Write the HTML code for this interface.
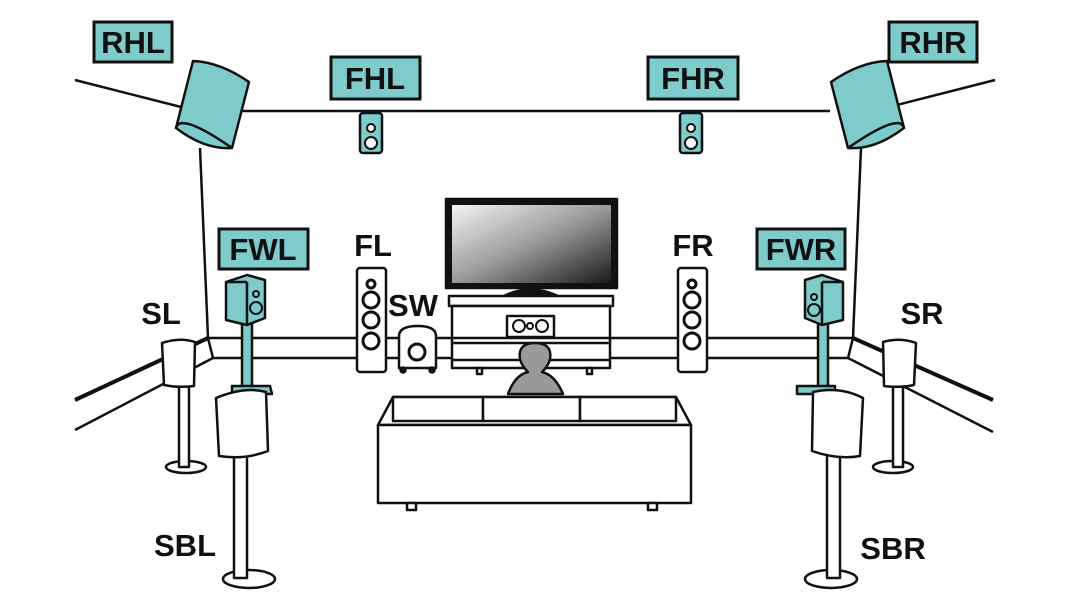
<!DOCTYPE html>
<html><head><meta charset="utf-8"><style>
html,body{margin:0;padding:0;background:#fff}
svg{display:block}
text{font-family:"Liberation Sans",sans-serif;font-weight:bold;font-size:31px;fill:#111}
</style></head><body>
<svg width="1080" height="612" viewBox="0 0 1080 612" xmlns="http://www.w3.org/2000/svg">
<defs>
<linearGradient id="scr" x1="0" y1="0" x2="1" y2="1">
<stop offset="0" stop-color="#f4f4f4"/><stop offset="0.5" stop-color="#9a9a9a"/><stop offset="1" stop-color="#1a1a1a"/>
</linearGradient>
</defs>
<g stroke="#111" stroke-width="2.5" fill="none" stroke-linejoin="round">
<!-- walls -->
<line x1="75" y1="80" x2="185" y2="108"/>
<line x1="995" y1="80" x2="885" y2="108"/>
<line x1="240" y1="111" x2="830" y2="111"/>
<line x1="200" y1="148" x2="208" y2="338"/>
<line x1="861" y1="148" x2="853" y2="338"/>
<!-- baseboard -->
<line x1="208" y1="338" x2="853" y2="338"/>
<line x1="213" y1="358" x2="848" y2="358"/>
<line x1="208" y1="338" x2="213" y2="358"/>
<line x1="853" y1="338" x2="848" y2="358"/>
<line x1="208" y1="338" x2="75" y2="400" stroke-width="4"/>
<line x1="213" y1="358" x2="75" y2="430"/>
<line x1="853" y1="338" x2="993" y2="400" stroke-width="4"/>
<line x1="848" y1="358" x2="993" y2="432"/>
</g>
<!-- labels -->
<g stroke="#111" stroke-width="3" fill="#7ecbcb">
<rect x="94" y="22" width="78" height="40"/>
<rect x="331" y="57" width="89" height="42"/>
<rect x="648" y="57" width="90" height="42"/>
<rect x="889" y="22" width="88" height="40"/>
<rect x="219" y="229" width="89" height="40"/>
<rect x="757" y="229" width="88" height="40"/>
</g>
<text x="133" y="53" text-anchor="middle">RHL</text>
<text x="375" y="89" text-anchor="middle">FHL</text>
<text x="693" y="89" text-anchor="middle">FHR</text>
<text x="933" y="53" text-anchor="middle">RHR</text>
<text x="263" y="260" text-anchor="middle">FWL</text>
<text x="801" y="260" text-anchor="middle">FWR</text>
<text x="373" y="256" text-anchor="middle">FL</text>
<text x="693" y="256" text-anchor="middle">FR</text>
<text x="413" y="316" text-anchor="middle">SW</text>
<text x="580" y="330" text-anchor="middle">C</text>
<text x="161" y="324" text-anchor="middle">SL</text>
<text x="922" y="324" text-anchor="middle">SR</text>
<text x="185" y="556" text-anchor="middle">SBL</text>
<text x="893" y="559" text-anchor="middle">SBR</text>
<g stroke="#111" stroke-width="2.5" stroke-linejoin="round">
<!-- RH speakers -->
<path d="M193,61 Q220,62 249,82 L232,148 Q205,150 176,128 Z" fill="#7ecbcb"/>
<path d="M176,128 Q180,112 232,148" fill="none"/>
<path d="M887,61 Q860,62 831,82 L848,148 Q875,150 904,128 Z" fill="#7ecbcb"/>
<path d="M904,128 Q900,112 848,148" fill="none"/>
<!-- FH speakers -->
<g fill="#7ecbcb"><rect x="360" y="113" width="22" height="40" rx="3"/><rect x="680" y="113" width="22" height="40" rx="3"/></g>
<g fill="#fff" stroke-width="2"><circle cx="371" cy="128" r="4"/><circle cx="371" cy="143" r="6"/><circle cx="691" cy="128" r="4"/><circle cx="691" cy="143" r="6"/></g>
<!-- TV -->
<rect x="446" y="199" width="171" height="89" fill="#111"/>
<rect x="452" y="205" width="159" height="78" fill="url(#scr)" stroke="none"/>
<path d="M502,297 Q530,282 560,297 Z" fill="#111"/>
<!-- stand -->
<rect x="449" y="296" width="164" height="10" fill="#fff"/>
<rect x="452" y="306" width="158" height="62" fill="#fff"/>
<line x1="452" y1="338" x2="610" y2="338"/><line x1="452" y1="343" x2="610" y2="343"/>
<line x1="452" y1="360" x2="610" y2="360"/>
<rect x="477" y="368" width="5" height="6" fill="#fff"/><rect x="587" y="368" width="5" height="6" fill="#fff"/>
<rect x="507" y="316" width="47" height="21" fill="#fff"/>
<g fill="#fff" stroke-width="2"><circle cx="519" cy="326" r="6"/><circle cx="530" cy="326" r="3"/><circle cx="542" cy="326" r="6"/></g>
<!-- FL FR towers -->
<rect x="357" y="268" width="29" height="104" rx="3" fill="#fff"/>
<rect x="678" y="268" width="29" height="104" rx="3" fill="#fff"/>
<g fill="#fff" stroke-width="3">
<circle cx="371" cy="284" r="4"/><circle cx="371" cy="300" r="8"/><circle cx="371" cy="320" r="8"/><circle cx="371" cy="341" r="8"/>
<circle cx="692" cy="284" r="4"/><circle cx="692" cy="300" r="8"/><circle cx="692" cy="320" r="8"/><circle cx="692" cy="341" r="8"/>
</g>
<!-- SW -->
<path d="M399,368 L399,336 Q399,326 418,326 Q436,326 436,336 L436,368 Z" fill="#fff"/>
<circle cx="417" cy="352" r="8" fill="#fff" stroke-width="3"/>
<circle cx="403" cy="370" r="2.5" fill="#111"/><circle cx="432" cy="370" r="2.5" fill="#111"/>
<!-- person -->
<path d="M508,394 Q515,375 528,372 Q518,362 520,352 Q522,343 535,343 Q548,343 550,352 Q552,362 542,372 Q555,375 563,394 Z" fill="#9a9a9a"/>
<!-- sofa -->
<path d="M378,425 L393,397 L676,397 L691,425 Z" fill="#fff"/>
<rect x="393" y="397" width="90" height="24" fill="#fff"/><rect x="483" y="397" width="97" height="24" fill="#fff"/><rect x="580" y="397" width="96" height="24" fill="#fff"/>
<rect x="378" y="425" width="313" height="78" fill="#fff"/>
<rect x="407" y="503" width="9" height="7" fill="#fff"/><rect x="648" y="503" width="9" height="7" fill="#fff"/>
<!-- SL -->
<ellipse cx="186" cy="467" rx="20" ry="6" fill="#fff"/>
<rect x="179" y="385" width="10" height="82" fill="#fff"/>
<path d="M162,343 Q180,337 195,342 L194,386 Q178,388 164,385 Z" fill="#fff"/>
<!-- SR -->
<ellipse cx="893" cy="467" rx="20" ry="6" fill="#fff"/>
<rect x="893" y="385" width="10" height="82" fill="#fff"/>
<path d="M883,342 Q900,337 916,343 L914,385 Q900,388 884,386 Z" fill="#fff"/>
<!-- FWL -->
<rect x="242" y="320" width="10" height="70" fill="#7ecbcb"/>
<path d="M232,386 L270,386 L272,394 L232,394 Z" fill="#7ecbcb"/>
<path d="M226,282 L247,275 L265,280 L265,318 L247,325 L226,320 Z" fill="#7ecbcb"/>
<line x1="247" y1="282" x2="247" y2="325"/><line x1="226" y1="282" x2="247" y2="282"/>
<g fill="#7ecbcb" stroke-width="2"><circle cx="256" cy="294" r="3"/><circle cx="256" cy="308" r="6"/></g>
<!-- FWR -->
<rect x="818" y="320" width="10" height="70" fill="#7ecbcb"/>
<path d="M797,386 L835,386 L835,394 L797,394 Z" fill="#7ecbcb"/>
<path d="M843,282 L822,275 L805,280 L805,318 L822,325 L843,320 Z" fill="#7ecbcb"/>
<line x1="822" y1="282" x2="822" y2="325"/><line x1="843" y1="282" x2="822" y2="282"/>
<g fill="#7ecbcb" stroke-width="2"><circle cx="814" cy="297" r="3"/><circle cx="814" cy="310" r="6"/></g>
<!-- SBL -->
<ellipse cx="249" cy="579" rx="26" ry="9" fill="#fff"/>
<rect x="234" y="455" width="13" height="123" fill="#fff"/>
<path d="M216,398 Q245,386 266,392 L268,451 Q245,460 219,456 Z" fill="#fff"/>
<!-- SBR -->
<ellipse cx="831" cy="579" rx="26" ry="9" fill="#fff"/>
<rect x="827" y="455" width="13" height="123" fill="#fff"/>
<path d="M813,392 Q840,386 863,398 L860,456 Q838,460 812,451 Z" fill="#fff"/>
</g>
</svg>
</body></html>
